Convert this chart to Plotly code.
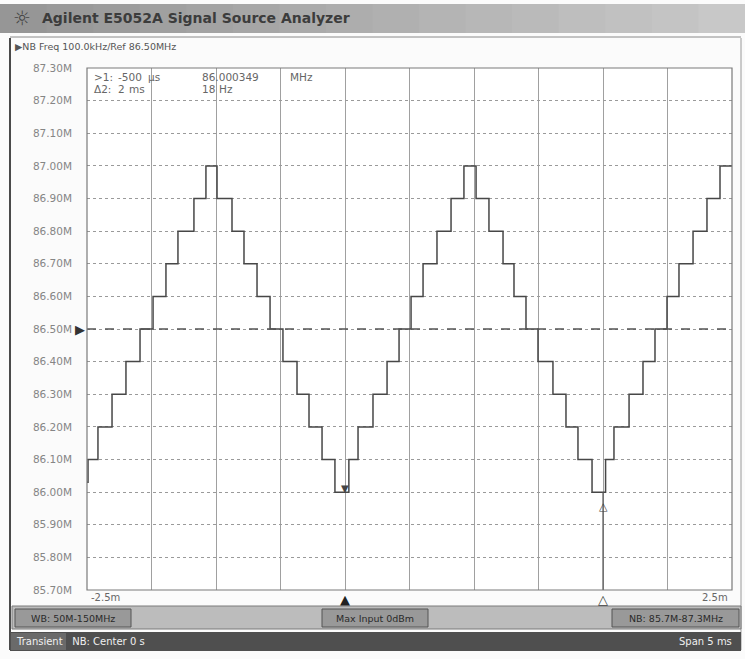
import plotly.graph_objects as go

# ---------------- data ----------------
y_tick_values = [85.7, 85.8, 85.9, 86.0, 86.1, 86.2, 86.3, 86.4, 86.5,
                 86.6, 86.7, 86.8, 86.9, 87.0, 87.1, 87.2, 87.3]
y_tick_labels = ["85.70M", "85.80M", "85.90M", "86.00M", "86.10M", "86.20M",
                 "86.30M", "86.40M", "86.50M", "86.60M", "86.70M", "86.80M",
                 "86.90M", "87.00M", "87.10M", "87.20M", "87.30M"]
x_grid_ms = [-2.5, -2.0, -1.5, -1.0, -0.5, 0.0, 0.5, 1.0, 1.5, 2.0, 2.5]

# staircase trace: time where each level starts (ms) and frequency level (MHz)
step_start_ms = [-2.500, -2.492, -2.415, -2.306, -2.198, -2.089, -1.988, -1.888,
                 -1.795, -1.671, -1.578, -1.492, -1.376, -1.283, -1.182, -1.081,
                 -0.981, -0.872, -0.779, -0.678, -0.578, -0.470, -0.399, -0.283,
                 -0.174, -0.081, 0.012, 0.105, 0.213, 0.322, 0.422, 0.516,
                 0.616, 0.725, 0.810, 0.903, 0.996, 1.112, 1.213, 1.306,
                 1.415, 1.520, 1.585, 1.702, 1.810, 1.903, 1.996, 2.089,
                 2.198, 2.306, 2.407]
step_level_mhz = [86.03, 86.10, 86.20, 86.30, 86.40, 86.50, 86.60, 86.70,
                  86.80, 86.90, 87.00, 86.90, 86.80, 86.70, 86.60, 86.50,
                  86.40, 86.30, 86.20, 86.10, 86.00, 86.10, 86.20, 86.30,
                  86.40, 86.50, 86.60, 86.70, 86.80, 86.90, 87.00, 86.90,
                  86.80, 86.70, 86.60, 86.50, 86.40, 86.30, 86.20, 86.10,
                  86.00, 86.10, 86.20, 86.30, 86.40, 86.50, 86.60, 86.70,
                  86.80, 86.90, 87.00]
x_end_ms = 2.5

marker_times_ms = [-0.5, 1.5]
marker_values_mhz = [86.000349, 86.000367]
ref_level_mhz = 86.50

title_text = "Agilent E5052A Signal Source Analyzer"
header_text = "▶NB Freq 100.0kHz/Ref 86.50MHz"
readout_row1 = [">1:", "-500", "µs", "86.000349", "MHz"]
readout_row2 = ["Δ2:", "2", "ms", "18", "Hz"]
bar_texts = ["WB: 50M-150MHz", "Max Input 0dBm", "NB: 85.7M-87.3MHz"]
status_left = "Transient   NB: Center 0 s"
status_right = "Span 5 ms"
x_left_label = "-2.5m"
x_right_label = "2.5m"

# ---------------- layout geometry ----------------
FW, FH = 745, 659
L, R, T, B = 87, 13, 68, 69
PW, PH = FW - L - R, FH - T - B


def px(x):
    return (x - L) / PW


def py(y):
    return (FH - B - y) / PH


UI_FONT = "DejaVu Sans"

fig = go.Figure()

fig.add_trace(go.Scatter(
    x=step_start_ms + [x_end_ms],
    y=step_level_mhz + [step_level_mhz[-1]],
    mode="lines", line=dict(shape="hv", color="#474747", width=1.5),
    hoverinfo="skip", showlegend=False,
))

shapes = []
# title bar gradient
n = 16
for i in range(n):
    c = int(150 + (200 - 150) * i / (n - 1))
    shapes.append(dict(type="rect", xref="paper", yref="paper",
                       x0=px(FW * i / n), x1=px(FW * (i + 1) / n + 1),
                       y0=py(33), y1=py(4), fillcolor=f"rgb({c},{c},{c})",
                       line=dict(width=0), layer="below"))
# outer frame lines
shapes.append(dict(type="line", xref="paper", yref="paper", x0=px(10), x1=px(10),
                   y0=py(38), y1=py(650), line=dict(color="#4a4a4a", width=2)))
shapes.append(dict(type="line", xref="paper", yref="paper", x0=px(741), x1=px(741),
                   y0=py(38), y1=py(650), line=dict(color="#9a9a9a", width=1)))
shapes.append(dict(type="line", xref="paper", yref="paper", x0=px(10), x1=px(741),
                   y0=py(37), y1=py(37), line=dict(color="#8a8a8a", width=1)))
# lower gray info bar
shapes.append(dict(type="rect", xref="paper", yref="paper", x0=px(12), x1=px(741),
                   y0=py(629), y1=py(606), fillcolor="#bcbcbc",
                   line=dict(color="#7a7a7a", width=1)))
for (x0, x1) in [(15, 131), (322, 428), (612, 739)]:
    shapes.append(dict(type="rect", xref="paper", yref="paper", x0=px(x0), x1=px(x1),
                       y0=py(627), y1=py(609), fillcolor="#999999",
                       line=dict(color="#555555", width=1)))
# status bar
shapes.append(dict(type="rect", xref="paper", yref="paper", x0=px(10), x1=px(741),
                   y0=py(651), y1=py(632), fillcolor="#4f4f4f",
                   line=dict(width=0)))
shapes.append(dict(type="rect", xref="paper", yref="paper", x0=px(11), x1=px(66),
                   y0=py(650), y1=py(633), fillcolor="#6a6a6a",
                   line=dict(width=0)))
# reference level line
shapes.append(dict(type="line", xref="paper", yref="y", x0=0, x1=1,
                   y0=ref_level_mhz, y1=ref_level_mhz,
                   line=dict(color="#555555", width=1.5, dash="dash")))
# delta marker line
shapes.append(dict(type="line", xref="x", yref="y",
                   x0=marker_times_ms[1], x1=marker_times_ms[1],
                   y0=y_tick_values[0], y1=marker_values_mhz[1],
                   line=dict(color="#555555", width=1.2)))
# plot border
shapes.append(dict(type="rect", xref="paper", yref="paper", x0=0, x1=1, y0=0, y1=1,
                   line=dict(color="#7a7a7a", width=1.2)))

ann = []
ann.append(dict(text="☼", xref="paper", yref="paper", x=px(22), y=py(18),
                xanchor="center", yanchor="middle", showarrow=False,
                font=dict(family=UI_FONT, size=20, color="#444444")))
ann.append(dict(text="<b>" + title_text + "</b>", xref="paper", yref="paper",
                x=px(40), y=py(18), xanchor="left", yanchor="middle", showarrow=False,
                font=dict(family=UI_FONT, size=14, color="#3c3c3c")))
ann.append(dict(text=header_text, xref="paper", yref="paper", x=px(13), y=py(46),
                xanchor="left", yanchor="middle", showarrow=False,
                font=dict(family=UI_FONT, size=9.5, color="#555555")))
# marker readout
cols1 = [92, 116, 146, 200, 288]
cols2 = [92, 116, 127, 200, 217]
for txt, x in zip(readout_row1, cols1):
    ann.append(dict(text=txt, xref="paper", yref="paper", x=px(x), y=py(77),
                    xanchor="left", yanchor="middle", showarrow=False,
                    font=dict(family=UI_FONT, size=10.5, color="#666666")))
for txt, x in zip(readout_row2, cols2):
    ann.append(dict(text=txt, xref="paper", yref="paper", x=px(x), y=py(89),
                    xanchor="left", yanchor="middle", showarrow=False,
                    font=dict(family=UI_FONT, size=10.5, color="#666666")))
# reference arrow
ann.append(dict(text="▶", xref="paper", yref="y", x=0, y=ref_level_mhz,
                xanchor="right", yanchor="middle", showarrow=False,
                font=dict(family=UI_FONT, size=13, color="#333333")))
# markers on trace
ann.append(dict(text="▼", xref="x", yref="y", x=marker_times_ms[0], y=marker_values_mhz[0],
                xanchor="center", yanchor="bottom", yshift=-4, showarrow=False,
                font=dict(family=UI_FONT, size=10, color="#444444")))
ann.append(dict(text="△", xref="x", yref="y", x=marker_times_ms[1], y=marker_values_mhz[1],
                xanchor="center", yanchor="top", yshift=-6, showarrow=False,
                font=dict(family=UI_FONT, size=11, color="#444444")))
# bottom marker indicators
ann.append(dict(text="▲", xref="x", yref="paper", x=marker_times_ms[0], y=0,
                xanchor="center", yanchor="top", showarrow=False,
                font=dict(family=UI_FONT, size=13, color="#222222")))
ann.append(dict(text="△", xref="x", yref="paper", x=marker_times_ms[1], y=0,
                xanchor="center", yanchor="top", showarrow=False,
                font=dict(family=UI_FONT, size=13, color="#444444")))
# x end labels
ann.append(dict(text=x_left_label, xref="x", yref="paper", x=-2.5, y=0,
                xanchor="left", yanchor="top", xshift=2, showarrow=False,
                font=dict(family=UI_FONT, size=10, color="#666666")))
ann.append(dict(text=x_right_label, xref="x", yref="paper", x=2.5, y=0,
                xanchor="right", yanchor="top", xshift=-2, showarrow=False,
                font=dict(family=UI_FONT, size=10, color="#666666")))
# info bar texts
for txt, (x0, x1) in zip(bar_texts, [(15, 131), (322, 428), (612, 739)]):
    ann.append(dict(text=txt, xref="paper", yref="paper", x=px((x0 + x1) / 2), y=py(618),
                    xanchor="center", yanchor="middle", showarrow=False,
                    font=dict(family=UI_FONT, size=9.5, color="#2a2a2a")))
ann.append(dict(text=status_left, xref="paper", yref="paper", x=px(14), y=py(641),
                xanchor="left", yanchor="middle", showarrow=False,
                font=dict(family=UI_FONT, size=10, color="#f0f0f0")))
ann.append(dict(text=status_right, xref="paper", yref="paper", x=px(734), y=py(641),
                xanchor="right", yanchor="middle", showarrow=False,
                font=dict(family=UI_FONT, size=10, color="#f0f0f0")))

fig.update_layout(
    width=FW, height=FH,
    margin=dict(l=L, r=R, t=T, b=B, pad=0),
    paper_bgcolor="#fbfbfb", plot_bgcolor="#ffffff",
    showlegend=False,
    shapes=shapes, annotations=ann,
    xaxis=dict(range=[-2.5, 2.5], tickvals=x_grid_ms, showticklabels=False,
               showgrid=True, gridcolor="#a0a0a0", gridwidth=1,
               zeroline=False, showline=False, ticks=""),
    yaxis=dict(range=[y_tick_values[0], y_tick_values[-1]],
               tickvals=y_tick_values, ticktext=y_tick_labels,
               showgrid=True, gridcolor="#9a9a9a", gridwidth=1, griddash="dot",
               zeroline=False, showline=False, ticks="",
               ticklabelstandoff=14,
               tickfont=dict(family=UI_FONT, size=10.5, color="#858585")),
)

fig.write_html("out.html",
               config={"displayModeBar": False},
               post_script="document.body.style.margin='0';document.body.style.overflow='hidden';")
